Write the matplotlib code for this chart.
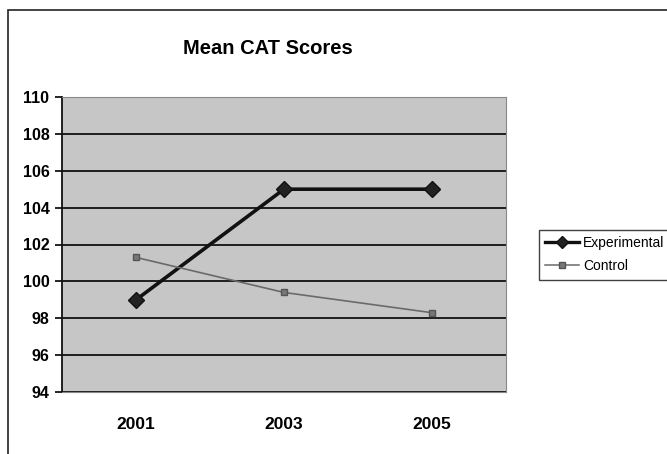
import matplotlib
matplotlib.use("Agg")
import matplotlib.pyplot as plt
from matplotlib.patches import Rectangle
from matplotlib.lines import Line2D

years = ["2001", "2003", "2005"]
experimental = [99.0, 105.0, 105.0]
control = [101.3, 99.4, 98.3]
y_ticks = [94, 96, 98, 100, 102, 104, 106, 108, 110]

plt.rcParams["font.family"] = ["Liberation Sans", "DejaVu Sans"]

fig = plt.figure(figsize=(6.67, 4.54), dpi=100)
fig.patch.set_facecolor("white")

# chart frame
fig.patches.append(Rectangle((8 / 667, -0.01), 1.0, 1 - 10 / 454 + 0.01,
                             transform=fig.transFigure, fill=False,
                             edgecolor="#222222", linewidth=1.2))

ax = fig.add_axes([62 / 667, 1 - 392 / 454, 444 / 667, 295 / 454])
ax.set_facecolor("#c6c6c6")

x = range(len(years))
ax.plot(x, experimental, color="#111111", linewidth=2.6, marker="D",
        markersize=8, markerfacecolor="#222222", markeredgecolor="#111111",
        zorder=3)
ax.plot(x, control, color="#6a6a6a", linewidth=1.2, marker="s",
        markersize=5, markerfacecolor="#777777", markeredgecolor="#555555",
        zorder=3)

ax.set_xlim(-0.5, 2.5)
ax.set_ylim(94, 110)
ax.set_yticks(y_ticks)
ax.set_yticklabels([str(v) for v in y_ticks], fontsize=11.5, fontweight="bold")
ax.set_xticks(list(x))
ax.set_xticklabels(years, fontsize=12.5, fontweight="bold")
ax.tick_params(axis="x", length=0, pad=18)
ax.tick_params(axis="y", length=5, width=1.2, direction="out", pad=4)
ax.yaxis.grid(True, color="#111111", linewidth=1.3)
ax.set_axisbelow(True)

for side in ["top", "right", "bottom"]:
    ax.spines[side].set_color("#888888")
    ax.spines[side].set_linewidth(0.8)
ax.spines["left"].set_color("#111111")
ax.spines["left"].set_linewidth(1.3)

fig.text(268 / 667, 1 - 48 / 454, "Mean CAT Scores", ha="center", va="center",
         fontsize=14.5, fontweight="bold")

handles = [
    Line2D([], [], color="#111111", linewidth=2.4, marker="D", markersize=6,
           markerfacecolor="#222222", markeredgecolor="#111111"),
    Line2D([], [], color="#6a6a6a", linewidth=1.1, marker="s", markersize=4,
           markerfacecolor="#777777", markeredgecolor="#555555"),
]
leg = fig.legend(handles, ["Experimental", "Control"], loc="upper left",
                 bbox_to_anchor=(539 / 667, 1 - 230 / 454),
                 fontsize=10, frameon=True, fancybox=False, borderpad=0.45,
                 handlelength=2.4, handletextpad=0.3, labelspacing=0.65,
                 borderaxespad=0)
leg.get_frame().set_edgecolor("#111111")
leg.get_frame().set_linewidth(1.0)

fig.savefig("out.png", dpi=100, facecolor="white")
